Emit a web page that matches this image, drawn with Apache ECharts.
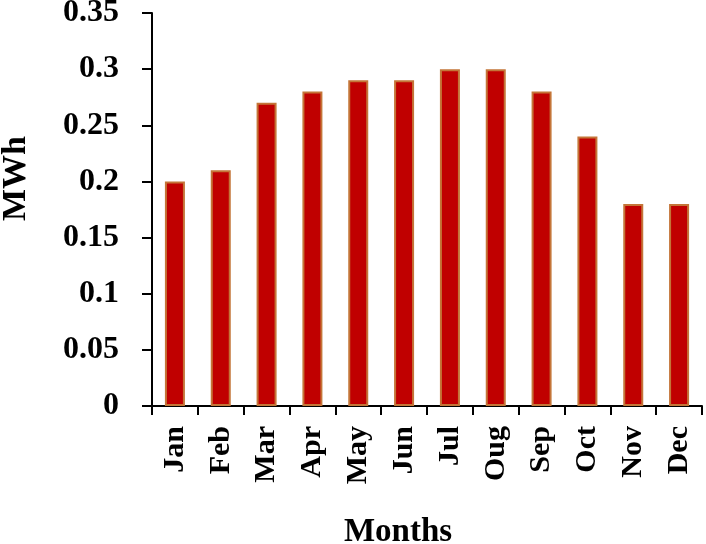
<!DOCTYPE html>
<html><head><meta charset="utf-8">
<script src="https://cdn.jsdelivr.net/npm/echarts@6/dist/echarts.min.js"></script>
<style>html,body{margin:0;padding:0;background:#fff}#c{width:706px;height:544px}</style>
</head><body><div id="c"></div>
<script>
var months = ['Jan','Feb','Mar','Apr','May','Jun','Jul','Oug','Sep','Oct','Nov','Dec'];
var energy = [0.20,0.21,0.27,0.28,0.29,0.29,0.30,0.30,0.28,0.24,0.18,0.18];
var yTicks = [0,0.05,0.1,0.15,0.2,0.25,0.3,0.35];
var font = '"Liberation Serif","Times New Roman",serif';
var chart = echarts.init(document.getElementById('c'));
chart.setOption({
  animation:false,
  grid:{left:152,right:4,top:13,bottom:138,containLabel:false,outerBoundsMode:'none'},
  xAxis:{type:'category',data:months,name:'Months',nameLocation:'middle',nameGap:110,
    nameTextStyle:{fontFamily:font,fontWeight:'bold',fontSize:33,color:'#000',padding:[0,58,0,0]},
    axisLine:{lineStyle:{color:'#000',width:2}},
    axisTick:{show:true,length:9,lineStyle:{color:'#000',width:2}},
    axisLabel:{rotate:90,fontFamily:font,fontWeight:'bold',fontSize:30,color:'#000',margin:20}},
  yAxis:{type:'value',min:0,max:0.35,interval:0.05,name:'MWh',nameLocation:'middle',nameGap:119,
    nameTextStyle:{fontFamily:font,fontWeight:'bold',fontSize:34,color:'#000',padding:[0,0,0,62]},
    axisLine:{show:true,lineStyle:{color:'#000',width:2}},
    axisTick:{show:true,length:10,lineStyle:{color:'#000',width:2}},
    splitLine:{show:false},
    axisLabel:{fontFamily:font,fontWeight:'bold',fontSize:32,color:'#000',margin:33,
      formatter:function(v){var t=yTicks.find(function(t){return Math.abs(t-v)<1e-9});return String(+(t===undefined?v:t).toFixed(2));}}},
  series:[{type:'bar',data:energy,barWidth:20,
    itemStyle:{color:'#c00000',borderColor:'#c47538',borderWidth:2}}]
});
</script></body></html>
